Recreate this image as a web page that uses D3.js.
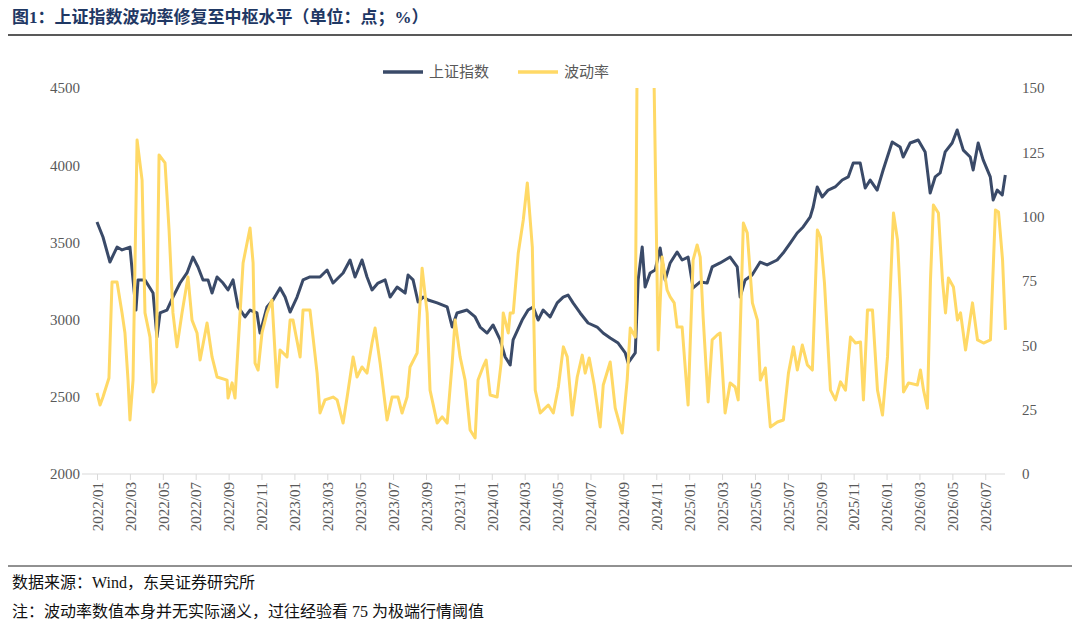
<!DOCTYPE html>
<html lang="zh">
<head>
<meta charset="UTF-8">
<title>上证指数波动率</title>
<script src="https://d3js.org/d3.v7.min.js"></script>
<style>
  body { margin: 0; background: #fff; }
  svg { display: block; }
  .tick text { font-family: "Liberation Serif", "Times New Roman", serif; font-size: 15px; fill: #595959; }
</style>
</head>
<body>
<svg width="1080" height="632"></svg>
<script>
// t = months since 2022/01 (read on a 16.15 px grid, rescaled below)
const idxT = [0,.37,.8,1.24,1.55,2.04,2.23,2.41,2.54,2.97,3.47,3.71,3.9,4.33,4.7,5.14,5.57,5.94,6.25,6.56,6.87,7.12,7.43,7.8,8.11,8.42,8.73,9.16,9.47,9.9,10.09,10.52,10.89,11.33,11.64,11.95,12.38,12.75,13.18,13.8,14.24,14.61,15.23,15.66,15.97,16.4,16.71,17.02,17.39,17.83,18.14,18.57,19.07,19.25,19.56,19.87,20.18,20.49,21.05,21.67,21.98,22.28,22.9,23.4,23.71,24.14,24.51,24.95,25.26,25.57,25.75,26.31,26.68,26.99,27.3,27.61,28.04,28.48,28.85,29.15,29.46,29.9,30.39,30.95,31.32,31.76,32.25,32.69,32.87,33.31,33.49,33.74,33.92,34.23,34.54,34.85,35.16,35.47,35.9,36.21,36.58,36.89,37.33,37.76,38.07,38.56,39.18,39.62,39.8,40.11,40.54,41.04,41.47,42.09,42.46,42.9,43.33,43.7,44.14,44.32,44.57,44.88,45.25,45.68,46.12,46.49,46.8,47.23,47.54,47.85,48.28,48.65,49.21,49.7,49.89,50.32,50.82,51.25,51.56,51.87,52.18,52.49,52.92,53.23,53.61,54.04,54.22,54.53,54.84,55.28,55.46,55.71,56.02,56.21];
const idxV = [3632,3535,3373,3470,3451,3470,3257,3062,3257,3257,3172,2887,3043,3062,3146,3237,3302,3405,3341,3257,3257,3172,3276,3237,3192,3257,3082,3017,3062,3043,2913,3082,3127,3205,3146,3049,3146,3257,3276,3276,3321,3237,3302,3386,3276,3386,3276,3192,3237,3257,3146,3211,3172,3289,3257,3114,3146,3127,3108,3082,2952,3043,3062,3017,2952,2913,2965,2868,2758,2706,2868,2997,3062,3082,2997,3062,3017,3108,3146,3159,3108,3043,2978,2952,2913,2881,2848,2784,2719,2784,3257,3470,3211,3302,3321,3464,3257,3367,3438,3386,3405,3205,3244,3237,3341,3367,3405,3341,3146,3257,3289,3373,3354,3386,3431,3496,3561,3600,3665,3729,3859,3794,3839,3859,3904,3924,4014,4014,3852,3904,3839,3969,4150,4118,4053,4144,4163,4086,3820,3924,3950,4086,4144,4228,4098,4053,3969,4144,4034,3924,3775,3839,3807,3937];

const volT = [0,.19,.37,.74,.93,1.24,1.55,1.73,1.92,2.04,2.23,2.48,2.79,2.97,3.28,3.47,3.65,3.84,4.21,4.46,4.7,4.95,5.26,5.63,5.88,6.19,6.38,6.81,7.12,7.43,8.05,8.11,8.36,8.54,9.04,9.47,9.66,9.78,9.97,10.21,10.52,10.83,11.14,11.33,11.76,11.95,12.13,12.57,12.75,13.18,13.62,13.8,14.11,14.61,14.86,15.23,15.48,15.85,16.09,16.4,16.71,17.02,17.21,17.52,17.95,18.26,18.63,18.88,19.19,19.37,19.81,20.12,20.43,20.61,21.05,21.36,21.67,21.98,22.16,22.47,22.78,23.09,23.4,23.58,23.89,24.08,24.33,24.76,25.01,25.14,25.45,25.57,25.76,26.07,26.38,26.63,26.94,27.12,27.43,27.62,27.93,28.24,28.55,28.86,29.1,29.41,29.72,30.03,30.21,30.46,30.77,31.14,31.33,31.76,32.07,32.5,32.81,33,33.31,33.43,33.6,34.1,34.48,34.73,34.97,35.28,35.47,35.72,35.9,36.21,36.58,36.89,37.14,37.33,37.51,37.82,38.07,38.38,38.56,38.87,39.18,39.49,39.68,40,40.24,40.56,40.87,41.05,41.36,41.67,42.11,42.48,42.79,43.1,43.34,43.65,43.96,44.27,44.58,44.77,45.02,45.39,45.7,46.01,46.32,46.63,46.94,47.25,47.43,47.68,47.99,48.3,48.61,48.92,49.29,49.54,49.72,49.91,50.22,50.77,50.96,51.15,51.39,51.58,51.76,52.07,52.32,52.51,52.69,53,53.25,53.44,53.75,54.18,54.49,54.86,55.29,55.6,55.79,56.04,56.22];
const volV = [31.5,26.8,29.9,37.3,74.6,74.6,62.6,54.8,36.5,21,36.5,129.8,114.2,62.6,53.2,31.9,35.4,124,120.9,94.8,62.6,49.4,62.6,76.6,59.8,54.8,44.3,58.7,45.5,37.7,36.5,29.5,35.4,29.5,82,95.6,82,43.1,40.4,54.8,62.6,67.6,33.8,48.2,45.5,59.8,59.8,45.5,63.7,63.7,39.2,23.7,28.8,29.9,28.8,19.8,29.9,45.5,37.7,41.6,39.2,50.9,56.7,43.1,21,29.9,29.9,23.7,29.9,41.6,47,80,62.6,32.6,19.8,22.2,19.8,43.1,59.8,45.5,36.5,17.1,14,36.5,41.6,44.3,30.7,29.9,43.1,62.6,54.8,62.6,62.6,85.9,98.7,113.1,88.2,32.6,23.7,24.9,26.8,23.7,33.8,49.4,45.5,22.9,37.7,46.2,39.2,45.1,34.6,18.3,34.6,43.5,25.6,15.9,36.5,56.7,53.2,165,190,175,150,48.2,84.3,71.5,68.8,66.5,57.1,57.1,26.8,83.2,89,84.3,61,28,52.1,54,54.8,23.7,35.4,33.8,28.8,97.5,93.7,66.5,59.8,36.5,41.2,18.3,20.2,21,39.2,49.4,40.4,50.1,42.4,40.4,94.8,92.1,74.2,32.6,28.8,35.8,32.6,53.2,50.9,51.3,28.8,63.7,63.7,32.6,22.9,45.5,101.4,90.9,67.6,31.9,35.4,34.6,40.4,32.6,25.6,75.4,104.5,101.4,75.4,62.6,76.2,72.7,59.8,62.6,48.2,66.5,52.1,50.9,52.1,102.6,101.8,83.2,56];

const monthTicks = d3.range(0, 56, 2);
const tickLabel = m => `${2022 + Math.floor(m / 12)}/${String(m % 12 + 1).padStart(2, "0")}`;
const leftTicks = [2000, 2500, 3000, 3500, 4000, 4500];
const rightTicks = [0, 25, 50, 75, 100, 125, 150];

const svg = d3.select("svg");
const x = d3.scaleLinear().domain([0, 55.2]).range([97, 1005]);
const yL = d3.scaleLinear().domain([2000, 4500]).range([474, 88]);
const yR = d3.scaleLinear().domain([0, 150]).range([474, 88]);
const k = 16.15 / 16.44; // month grid correction

// title
svg.append("text").attr("x", 12).attr("y", 23)
  .attr("font-family", "Liberation Serif, Noto Sans CJK SC, serif")
  .attr("font-size", 17).attr("font-weight", "bold").attr("fill", "#1f3864")
  .text("图1：上证指数波动率修复至中枢水平（单位：点；%）");
svg.append("line").attr("x1", 8).attr("x2", 1072).attr("y1", 35).attr("y2", 35)
  .attr("stroke", "#222").attr("stroke-width", 1.5);
svg.append("line").attr("x1", 8).attr("x2", 1072).attr("y1", 566).attr("y2", 566)
  .attr("stroke", "#222").attr("stroke-width", 1);

// axes
const gl = svg.append("g").attr("transform", "translate(86,0)")
  .call(d3.axisLeft(yL).tickValues(leftTicks).tickFormat(d3.format("d")).tickSize(0).tickPadding(6));
gl.select(".domain").remove();
const gr = svg.append("g").attr("transform", "translate(1016,0)")
  .call(d3.axisRight(yR).tickValues(rightTicks).tickFormat(d3.format("d")).tickSize(0).tickPadding(6));
gr.select(".domain").remove();

const gx = svg.append("g").attr("transform", "translate(0,474)")
  .call(d3.axisBottom(x).tickValues(monthTicks).tickFormat(tickLabel).tickSize(6).tickSizeOuter(0));
gx.select(".domain").attr("stroke", "#d9d9d9").attr("d", "M82,0H1005");
gx.selectAll(".tick line").attr("stroke", "#d9d9d9");
gx.selectAll(".tick text").attr("transform", "rotate(-90)")
  .attr("text-anchor", "end").attr("x", -8).attr("y", 0).attr("dy", "0.35em");

// clip
svg.append("clipPath").attr("id", "clip").append("rect")
  .attr("x", 82).attr("y", 88).attr("width", 940).attr("height", 386);

const idxData = idxT.map((t, i) => [t * k, idxV[i]]);
const volData = volT.map((t, i) => [t * k, volV[i]]);

svg.append("path").datum(idxData).attr("clip-path", "url(#clip)")
  .attr("fill", "none").attr("stroke", "#3a4a68").attr("stroke-width", 3).attr("stroke-linejoin", "round")
  .attr("d", d3.line().x(d => x(d[0])).y(d => yL(d[1])));
svg.append("path").datum(volData).attr("clip-path", "url(#clip)")
  .attr("fill", "none").attr("stroke", "#ffd966").attr("stroke-width", 3).attr("stroke-linejoin", "round")
  .attr("d", d3.line().x(d => x(d[0])).y(d => yR(d[1])));

// legend
const legend = [["上证指数", "#3a4a68", 383], ["波动率", "#ffd966", 518]];
legend.forEach(([name, c, lx]) => {
  svg.append("line").attr("x1", lx).attr("x2", lx + 40).attr("y1", 72).attr("y2", 72)
    .attr("stroke", c).attr("stroke-width", 3.5);
  svg.append("text").attr("x", lx + 46).attr("y", 77).attr("font-size", 15)
    .attr("font-family", "Noto Sans CJK SC, sans-serif").attr("fill", "#595959").text(name);
});

// notes
const notes = ["数据来源：Wind，东吴证券研究所", "注：波动率数值本身并无实际涵义，过往经验看 75 为极端行情阈值"];
notes.forEach((n, i) => {
  svg.append("text").attr("x", 12).attr("y", 588 + i * 29).attr("font-size", 16)
    .attr("font-family", "Liberation Serif, Noto Sans CJK SC, serif").attr("fill", "#111").text(n);
});
</script>
</body>
</html>
